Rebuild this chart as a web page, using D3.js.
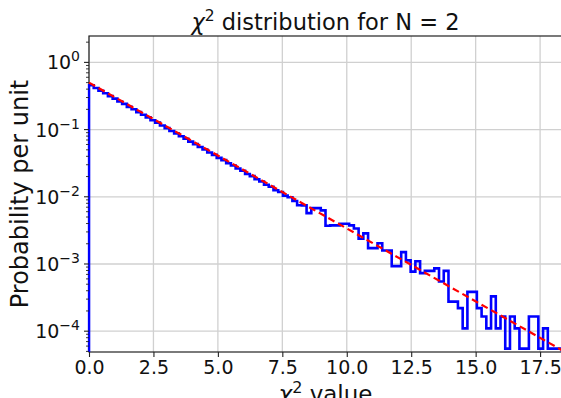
<!DOCTYPE html>
<html>
<head>
<meta charset="utf-8">
<script src="https://cdn.jsdelivr.net/npm/d3@7"></script>
<style>
  body { margin: 0; background: #fff; }
  svg { font-family: "DejaVu Sans", sans-serif; }
</style>
</head>
<body>
<svg id="chart" width="561" height="398"></svg>
<script>
// histogram of chi^2 values, 100 bins from 0 with fixed width
const BIN_START = 0;
const BIN_WIDTH = 0.1835;
const density = [
  0.458, 0.416, 0.379, 0.347, 0.315, 0.289, 0.262, 0.241, 0.218, 0.201,
  0.182, 0.166, 0.152, 0.138, 0.127, 0.115, 0.105, 0.0955, 0.0876, 0.0795,
  0.0730, 0.0661, 0.0607, 0.0550, 0.0505, 0.0457, 0.0421, 0.0380, 0.0351, 0.0316,
  0.0292, 0.0263, 0.0244, 0.0218, 0.0203, 0.0182, 0.0169, 0.0151, 0.0141, 0.0125,
  0.0118, 0.0104, 0.00985, 0.00865, 0.00750, 0.00745, 0.00572, 0.00679, 0.00679, 0.00628,
  0.00370, 0.00376, 0.00376, 0.00397, 0.00397, 0.00376, 0.00337, 0.00237, 0.00285, 0.00172,
  0.00172, 0.00204, 0.00159, 0.00159, 0.00093, 0.00093, 0.00150, 0.00113, 0.00077, 0.00110,
  0.00073, 0.00079, 0.00079, 0.00086, 0.00055, 0.00079, 0.000275, 0.000275, 0.00022, 0.00011,
  0.000385, 0.000385, 0.00022, 0.000165, 0.00011, 0.00033, 0.00011, 0.000165, 0.000055, 0.000165,
  0.00011, 0.000055, 0.000055, 0.000165, 0.000165, 0.000055, 0.00011, 0.000055, 0.000055, 0.000055
];

// expected curve (straight on a log axis), end points
const curveX = [0, 18.35];
const curveY = [0.5, 0.0000521];

const xTicks = [0, 2.5, 5, 7.5, 10, 12.5, 15, 17.5];
const yExponents = [0, -1, -2, -3, -4];

const margin = { left: 89, top: 36, right: 562, bottom: 352 };
const svg = d3.select('#chart');

let x = d3.scaleLinear().domain([0, 18.35]).range([margin.left, margin.right]);
let y = d3.scaleLog().domain([0.000049, 2.47]).range([margin.bottom, margin.top]);

svg.append('clipPath').attr('id', 'plot-clip')
  .append('rect')
    .attr('x', margin.left - 1.5).attr('y', margin.top)
    .attr('width', margin.right - margin.left + 1.5)
    .attr('height', margin.bottom - margin.top);

// grid
let grid = svg.append('g').attr('stroke', '#d0d0d0').attr('stroke-width', 1.3);
grid.selectAll('.vgrid').data(xTicks).enter().append('line')
  .attr('x1', d => x(d)).attr('x2', d => x(d))
  .attr('y1', margin.top).attr('y2', margin.bottom);
grid.selectAll('.hgrid').data(yExponents).enter().append('line')
  .attr('x1', margin.left).attr('x2', margin.right)
  .attr('y1', d => y(Math.pow(10, d))).attr('y2', d => y(Math.pow(10, d)));

// spines
svg.append('rect')
  .attr('x', margin.left).attr('y', margin.top)
  .attr('width', margin.right - margin.left)
  .attr('height', margin.bottom - margin.top)
  .attr('fill', 'none').attr('stroke', '#222').attr('stroke-width', 1.2);

// step histogram
let pts = [[x(BIN_START), margin.bottom + 5]];
density.forEach((v, i) => {
  let x0 = x(BIN_START + i * BIN_WIDTH);
  let x1 = x(BIN_START + (i + 1) * BIN_WIDTH);
  pts.push([x0, y(v)], [x1, y(v)]);
});
pts.push([x(BIN_START + density.length * BIN_WIDTH), margin.bottom + 5]);

svg.append('path')
  .attr('clip-path', 'url(#plot-clip)')
  .attr('d', d3.line()(pts))
  .attr('fill', 'none')
  .attr('stroke', '#0000ff')
  .attr('stroke-width', 2.6)
  .attr('stroke-linejoin', 'miter');

// expected distribution
svg.append('path')
  .attr('clip-path', 'url(#plot-clip)')
  .attr('d', d3.line()(curveX.map((d, i) => [x(d), y(curveY[i])])))
  .attr('fill', 'none')
  .attr('stroke', '#ff0000')
  .attr('stroke-width', 2.2)
  .attr('stroke-dasharray', '7,4');

// x axis
let xAxis = svg.append('g')
  .attr('transform', `translate(0,${margin.bottom})`)
  .call(d3.axisBottom(x).tickValues(xTicks).tickFormat(d3.format('.1f')).tickSize(5).tickPadding(4));
xAxis.select('.domain').remove();
xAxis.selectAll('text').attr('font-size', 19).attr('fill', '#111')
  .attr('font-family', '"DejaVu Sans", sans-serif');
xAxis.selectAll('line').attr('stroke', '#222').attr('stroke-width', 1.1);

// y axis: minor ticks
let minor = [];
for (let e = -5; e <= 0; e++) {
  for (let m = 2; m <= 9; m++) {
    let v = m * Math.pow(10, e);
    if (v >= y.domain()[0] && v <= y.domain()[1]) minor.push(v);
  }
}
svg.append('g').selectAll('line').data(minor).enter().append('line')
  .attr('x1', margin.left - 3).attr('x2', margin.left)
  .attr('y1', d => y(d)).attr('y2', d => y(d))
  .attr('stroke', '#222').attr('stroke-width', 0.9);

let yt = svg.append('g').selectAll('g').data(yExponents).enter().append('g')
  .attr('transform', d => `translate(${margin.left},${y(Math.pow(10, d))})`);
yt.append('line').attr('x1', -5).attr('x2', 0).attr('stroke', '#222').attr('stroke-width', 1.1);
let yl = yt.append('text')
  .attr('x', -9).attr('y', 7)
  .attr('text-anchor', 'end')
  .attr('font-size', 19).attr('fill', '#111');
yl.append('tspan').text('10');
yl.append('tspan').attr('dy', -8).attr('font-size', 14)
  .text(d => d === 0 ? '0' : '\u2212' + Math.abs(d));

// title
let title = svg.append('text')
  .attr('x', (margin.left + margin.right) / 2).attr('y', 30)
  .attr('text-anchor', 'middle').attr('font-size', 22.5).attr('fill', '#111');
title.append('tspan').attr('font-style', 'italic').text('\u03c7');
title.append('tspan').attr('dy', -9).attr('font-size', 15.5).text('2');
title.append('tspan').attr('dy', 9).text(' distribution for N = 2');

// x label (runs off the bottom edge, as in the source figure)
let xl = svg.append('text')
  .attr('x', (margin.left + margin.right) / 2).attr('y', 402)
  .attr('text-anchor', 'middle').attr('font-size', 23).attr('fill', '#111');
xl.append('tspan').attr('font-style', 'italic').text('\u03c7');
xl.append('tspan').attr('dy', -9).attr('font-size', 16).text('2');
xl.append('tspan').attr('dy', 9).text(' value');

// y label
svg.append('text')
  .attr('transform', `translate(28,${(margin.top + margin.bottom) / 2}) rotate(-90)`)
  .attr('text-anchor', 'middle').attr('font-size', 24).attr('fill', '#111')
  .text('Probability per unit');
</script>
</body>
</html>
